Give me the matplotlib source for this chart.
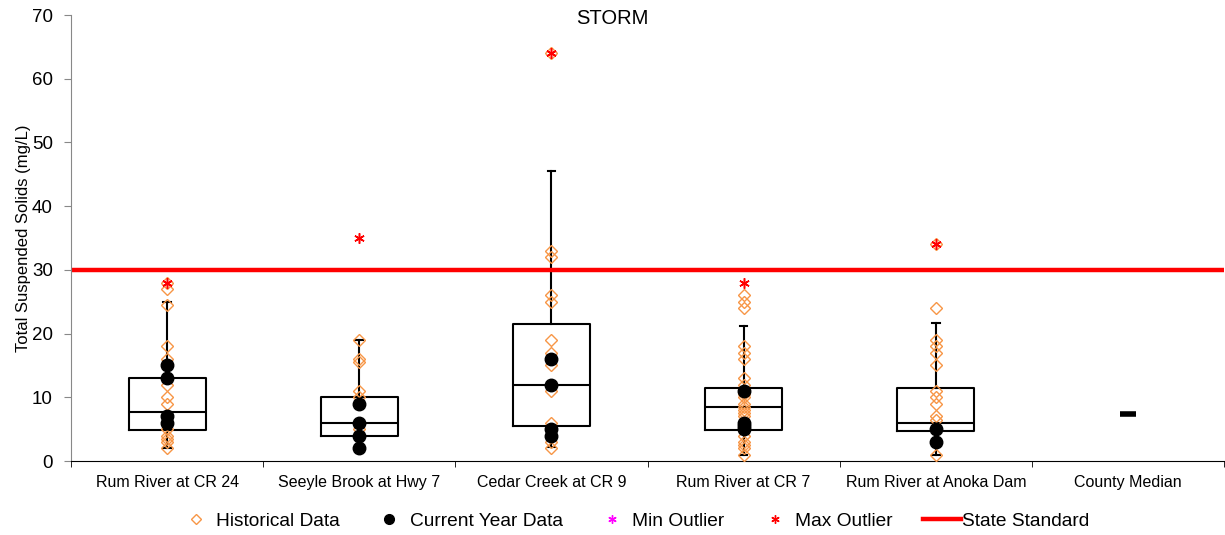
import matplotlib
matplotlib.use("Agg")
import matplotlib.pyplot as plt
from matplotlib.lines import Line2D

plt.rcParams['font.family'] = ['Liberation Sans', 'DejaVu Sans']

sites = ["Rum River at CR 24", "Seeyle Brook at Hwy 7", "Cedar Creek at CR 9",
         "Rum River at CR 7", "Rum River at Anoka Dam", "County Median"]

# Historical TSS samples (mg/L) per site
hist_cr24 = [28, 27, 24.5, 18, 16, 12, 10, 9, 5, 4, 3.5, 3, 2]
hist_seeyle = [19, 16, 15.5, 11, 10, 5]
hist_cedar = [64, 33, 32, 26, 25, 19, 17, 15, 11, 6, 3, 2]
hist_cr7 = [26, 25, 24, 18, 17, 16, 13, 12, 10.5, 10, 9, 8.5, 8, 7.5, 7, 4, 3, 2.5, 2, 1]
hist_anoka = [34, 24, 19, 18, 17, 15, 11, 10, 9, 7, 6.5, 5, 1]

# Current year samples (mg/L)
cur_cr24 = [15, 13, 7, 6]
cur_seeyle = [9, 6, 4, 2]
cur_cedar = [16, 12, 5, 4]
cur_cr7 = [11, 6, 5.5, 5]
cur_anoka = [5, 3]

# Box statistics per site
q1 = [4.9, 4.0, 5.5, 4.9, 4.7]
median = [7.7, 6.0, 12.0, 8.4, 6.0]
q3 = [13.0, 10.0, 21.5, 11.5, 11.4]
whisker_low = [2.0, 2.0, 2.2, 1.0, 1.0]
whisker_high = [25.0, 19.0, 45.5, 21.2, 21.6]
max_outlier = [28, 35, 64, 28, 34]

county_median = 7.4
state_standard = 30

hist_all = [hist_cr24, hist_seeyle, hist_cedar, hist_cr7, hist_anoka]
cur_all = [cur_cr24, cur_seeyle, cur_cedar, cur_cr7, cur_anoka]

orange = "#F79646"

fig = plt.figure(figsize=(12.25, 5.35), dpi=100)
ax = fig.add_axes([71 / 1225, 1 - 461 / 535, (1224 - 71) / 1225, (461 - 15) / 535])

stats = []
for i in range(5):
    stats.append(dict(med=median[i], q1=q1[i], q3=q3[i],
                      whislo=whisker_low[i], whishi=whisker_high[i], fliers=[]))
ax.bxp(stats, positions=list(range(5)), widths=0.4, capwidths=0.04,
       showfliers=False, patch_artist=False,
       boxprops=dict(color="black", linewidth=1.5),
       medianprops=dict(color="black", linewidth=1.5),
       whiskerprops=dict(color="black", linewidth=1.5),
       capprops=dict(color="black", linewidth=1.5))

ax.axhline(state_standard, color="#FF0000", linewidth=3.2, zorder=2)

for i, vals in enumerate(hist_all):
    ax.plot([i] * len(vals), vals, linestyle="none", marker="D", ms=6.2,
            mfc="none", mec=orange, mew=1.0, zorder=3)
for i, vals in enumerate(cur_all):
    ax.plot([i] * len(vals), vals, linestyle="none", marker="o", ms=9,
            mfc="black", mec="black", zorder=4)
ax.plot(range(5), max_outlier, linestyle="none", marker=(6, 2, 0), ms=7.5,
        mec="#FF0000", mew=1.1, zorder=5)

ax.plot([5], [county_median], linestyle="none", marker="_", ms=11, mew=4,
        color="black", zorder=4)

ax.set_xlim(-0.5, 5.5)
ax.set_ylim(0, 70)
ax.set_yticks(range(0, 71, 10))
ax.set_xticks(range(6))
ax.set_xticklabels(sites)
ax.set_xticks([x - 0.5 for x in range(7)], minor=True)
ax.tick_params(axis="x", which="major", length=0, pad=10, labelsize=11.5)
ax.tick_params(axis="x", which="minor", length=4, direction="out", color="black")
ax.tick_params(axis="y", length=5, direction="out", color="#888888", labelsize=13.5, pad=8)
for s in ["top", "right"]:
    ax.spines[s].set_visible(False)
ax.spines["left"].set_color("#888888")
ax.spines["bottom"].set_color("black")
ax.set_ylabel("Total Suspended Solids (mg/L)", fontsize=12, labelpad=1)

fig.text(612 / 1225, 1 - 19 / 535, "STORM", ha="center", va="center", fontsize=14.5)

handles = [
    Line2D([], [], linestyle="none", marker="D", ms=5, mfc="none", mec=orange, mew=1.0),
    Line2D([], [], linestyle="none", marker="o", ms=7, mfc="black", mec="black"),
    Line2D([], [], linestyle="none", marker=(6, 2, 0), ms=6, mec="#FF00FF", mew=1.0),
    Line2D([], [], linestyle="none", marker=(6, 2, 0), ms=6, mec="#FF0000", mew=1.0),
    Line2D([], [], color="#FF0000", linewidth=3.2),
]
labels = ["Historical Data", "Current Year Data", "Min Outlier", "Max Outlier", "State Standard"]
fig.legend(handles, labels, loc="center", bbox_to_anchor=(633 / 1225, 1 - 521 / 535),
           ncol=5, frameon=False, fontsize=13.8, handlelength=2.0,
           handletextpad=0.05, columnspacing=1.6)

fig.savefig("out.png", dpi=100)
